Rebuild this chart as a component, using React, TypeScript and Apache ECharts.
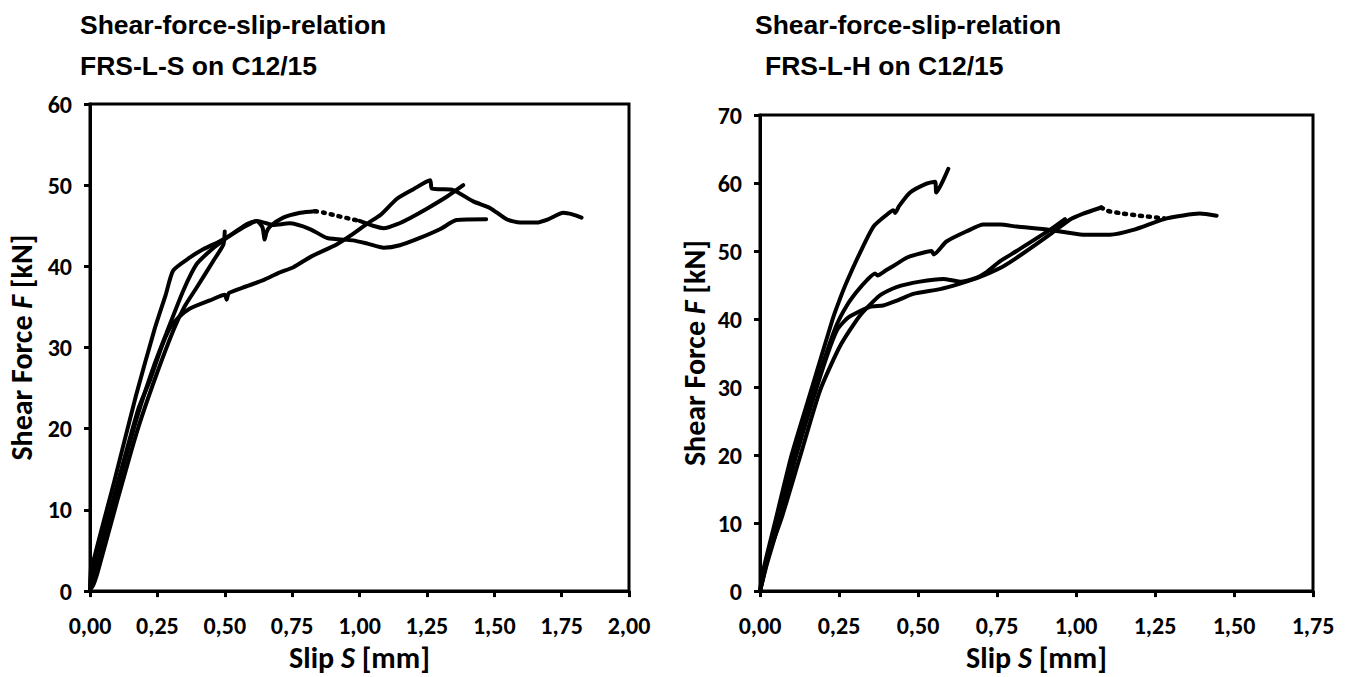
import React, { useEffect, useRef } from "react";
import * as echarts from "echarts";

// ---------- Data: slip S [mm], shear force F [kN] ----------
// Left chart: FRS-L-S on C12/15
const L1 = [[0,0],[0.004,4],[0.01,0.5],[0.03,2.5],[0.1,11],[0.173,19.5],[0.235,25.6],[0.309,32.1],[0.35,35],[0.396,37.4],[0.458,40.7],[0.495,42.7],[0.5,44.3]];
const L2a = [[0,0],[0.008,3],[0.09,13.5],[0.17,24],[0.24,32.3],[0.28,36.4],[0.309,39.5],[0.371,41.1],[0.42,42.1],[0.482,43.1],[0.532,44.1],[0.581,45.2],[0.618,45.6],[0.64,44.8],[0.648,43.3],[0.655,44.2],[0.668,44.9],[0.717,46],[0.78,46.6],[0.835,46.8]];
const L2dot = [[0.835,46.8],[0.87,46.6],[0.92,46.2],[0.96,45.9],[1.0,45.6]];
const L2b = [[1.0,45.6],[1.05,45],[1.09,44.7],[1.14,45.2],[1.19,46],[1.25,47.1],[1.325,48.6],[1.385,50]];
const L3 = [[0,0],[0.02,2.5],[0.1,12.5],[0.18,22],[0.24,28],[0.284,31.8],[0.346,37],[0.396,40.3],[0.445,41.9],[0.482,42.9],[0.53,44],[0.58,45],[0.62,45.6],[0.68,45.1],[0.74,45.3],[0.816,44.6],[0.88,43.5],[0.976,43.2],[1.03,42.8],[1.09,42.3],[1.15,42.6],[1.224,43.5],[1.3,44.6],[1.36,45.7],[1.47,45.8]];
const L4 = [[0,0],[0.015,2.5],[0.1,13],[0.18,22.5],[0.223,26],[0.265,30],[0.295,32.3],[0.325,33.6],[0.371,34.8],[0.445,35.8],[0.5,36.5],[0.507,35.9],[0.515,36.7],[0.569,37.4],[0.643,38.3],[0.7,39.2],[0.755,39.9],[0.82,41.2],[0.915,42.7],[0.976,44],[1.03,45.3],[1.08,46.4],[1.138,48.3],[1.2,49.5],[1.262,50.6],[1.268,49.6],[1.3,49.5],[1.348,49.4],[1.422,48],[1.484,47.2],[1.546,45.8],[1.596,45.4],[1.657,45.4],[1.7,45.8],[1.756,46.6],[1.79,46.4],[1.824,46]];

// Right chart: FRS-L-H on C12/15
const R1 = [[0,0],[0.01,3],[0.047,10],[0.1,20],[0.165,30],[0.23,40],[0.25,42.6],[0.274,45.4],[0.316,49.7],[0.359,53.6],[0.4,55.3],[0.422,56],[0.428,55.6],[0.44,56.6],[0.475,58.6],[0.527,59.9],[0.554,60.2],[0.558,58.6],[0.596,62.1]];
const R2 = [[0,0],[0.02,4],[0.055,10],[0.11,20],[0.175,30],[0.21,35],[0.243,39.2],[0.275,42],[0.306,44],[0.34,45.8],[0.364,46.7],[0.372,46.4],[0.4,47.2],[0.422,47.8],[0.464,49],[0.496,49.5],[0.543,50],[0.55,49.5],[0.59,51.4],[0.654,52.9],[0.707,53.9],[0.76,53.9],[0.812,53.6],[0.917,53.1],[1.023,52.4],[1.107,52.4],[1.181,53.1],[1.287,54.8],[1.392,55.5],[1.445,55.2]];
const R3 = [[0,0],[0.022,4],[0.06,10],[0.115,20],[0.18,30],[0.215,35],[0.243,38.3],[0.265,39.6],[0.285,40.4],[0.348,41.8],[0.39,42],[0.433,42.7],[0.485,43.7],[0.57,44.4],[0.633,45.2],[0.686,46],[0.76,47.5],[0.812,49],[0.917,52.4],[0.98,54.6],[1.023,55.5],[1.08,56.4]];
const R3dot = [[1.08,56.4],[1.1,55.9],[1.15,55.5],[1.2,55.2],[1.28,54.8]];
const R4 = [[0,0],[0.025,5],[0.07,11],[0.125,19.5],[0.19,29.5],[0.253,36],[0.316,40.5],[0.38,43.5],[0.432,44.7],[0.506,45.5],[0.58,45.9],[0.633,45.5],[0.686,46.1],[0.717,46.9],[0.76,48.5],[0.812,50],[0.917,53.1],[0.965,54.7]];

// Axes / texts
const titleLine1 = "Shear-force-slip-relation";
const leftTitle2 = "FRS-L-S on C12/15";
const rightTitle2 = "FRS-L-H on C12/15";
const leftXMax = 2.0;
const rightXMax = 1.75;
const leftYMax = 60;
const rightYMax = 70;
const xStep = 0.25;
const yStep = 10;

const LABEL_FONT = "Carlito, Lato, 'Open Sans', sans-serif";
const TITLE_FONT = "'Liberation Sans', Arial, sans-serif";

export default function App() {
  const ref = useRef<HTMLDivElement>(null);
  useEffect(() => {
    if (!ref.current) return;
    const chart = echarts.init(ref.current, undefined, { renderer: "svg" });

    const xLabel = (v: number) => v.toFixed(2).replace(".", ",");
    const axisLabelStyle = { color: "#000", fontFamily: LABEL_FONT, fontWeight: "bold" as const, fontSize: 24 };
    const nameStyle = {
      color: "#000",
      fontFamily: LABEL_FONT,
      fontWeight: "bold" as const,
      fontSize: 30,
      rich: { i: { fontStyle: "italic" as const, fontWeight: "bold" as const, fontSize: 30, fontFamily: LABEL_FONT, color: "#000" } },
    };
    const axisLine = { show: true, lineStyle: { color: "#000", width: 3 } };
    const axisTick = { show: true, inside: false, length: 6, lineStyle: { color: "#000", width: 3 } };

    const mkX = (idx: number, max: number) => ({
      type: "value",
      gridIndex: idx,
      min: 0,
      max,
      interval: xStep,
      name: "Slip {i|S} [mm]",
      nameLocation: "middle",
      nameGap: 48,
      nameTextStyle: nameStyle,
      axisLine,
      axisTick,
      splitLine: { show: false },
      axisLabel: { ...axisLabelStyle, margin: 22, formatter: xLabel },
    });
    const mkY = (idx: number, max: number, gap: number) => ({
      type: "value",
      gridIndex: idx,
      min: 0,
      max,
      interval: yStep,
      name: "Shear Force {i|F} [kN]",
      nameLocation: "middle",
      nameRotate: 90,
      nameGap: gap,
      nameTextStyle: nameStyle,
      axisLine,
      axisTick,
      splitLine: { show: false },
      axisLabel: { ...axisLabelStyle, margin: 18 },
    });

    const line = (data: number[][], xi: number, dotted = false) => ({
      type: "line",
      xAxisIndex: xi,
      yAxisIndex: xi,
      data,
      showSymbol: false,
      smooth: 0.2,
      lineStyle: dotted
        ? { color: "#000", width: 4.5, type: [2, 6], cap: "round" }
        : { color: "#000", width: 4, cap: "round", join: "round" },
      silent: true,
    });

    const titleText = (text: string, x: number, y: number) => ({
      type: "text",
      x,
      y,
      style: { text, fill: "#000", font: `bold 26.5px ${TITLE_FONT}`, textVerticalAlign: "middle", verticalAlign: "middle" },
    });

    chart.setOption({
      animation: false,
      backgroundColor: "#fff",
      grid: [
        { left: 90, top: 104, width: 539, height: 493, show: true, borderColor: "#000", borderWidth: 3, backgroundColor: "transparent" },
        { left: 760, top: 115, width: 553, height: 483, show: true, borderColor: "#000", borderWidth: 3, backgroundColor: "transparent" },
      ],
      xAxis: [mkX(0, leftXMax), mkX(1, rightXMax)],
      yAxis: [mkY(0, leftYMax, 54), mkY(1, rightYMax, 51)],
      series: [
        line(L1, 0), line(L2a, 0), line(L2dot, 0, true), line(L2b, 0), line(L3, 0), line(L4, 0),
        line(R1, 1), line(R2, 1), line(R3, 1), line(R3dot, 1, true), line(R4, 1),
      ],
      graphic: [
        titleText(titleLine1, 80, 25),
        titleText(leftTitle2, 80, 66),
        titleText(titleLine1, 755, 25),
        titleText(rightTitle2, 765, 66),
      ],
    });
    return () => chart.dispose();
  }, []);
  return <div ref={ref} style={{ position: "fixed", left: 0, top: 0, width: 1347, height: 677, background: "#fff" }} />;
}
